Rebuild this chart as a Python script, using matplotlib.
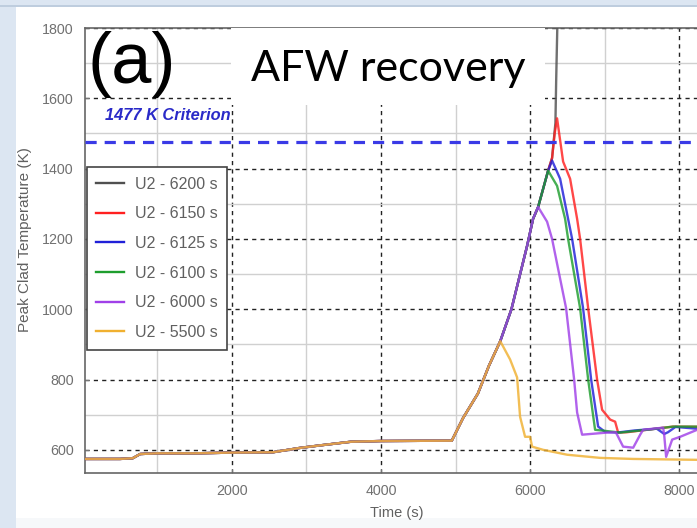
import matplotlib
matplotlib.use("Agg")
import matplotlib.pyplot as plt
from matplotlib.patches import Rectangle

# shared early part of every run (time s, temperature K)
base_t = [0, 500, 670, 770, 1000, 1500, 2000, 2550, 2900, 3200, 3600, 4000, 4950, 5100, 5300, 5450, 5600]
base_T = [574, 574, 576, 588, 590, 590, 592, 593, 605, 613, 623, 625, 626, 690, 760, 840, 909]

# rise common to the later recoveries
rise_t = [5750, 5960, 6040, 6107, 6242, 6295, 6340]
rise_T = [1000, 1180, 1257, 1290, 1394, 1430, 1530]

t_6200 = [6350, 6365, 6380]
T_6200 = [1650, 1800, 2100]

t_6150 = [6362, 6443, 6537, 6631, 6671, 6779, 6899, 6966, 7074, 7141, 7181, 7300, 7570, 7919, 8400]
T_6150 = [1543, 1420, 1371, 1257, 1200, 1003, 800, 714, 686, 680, 649, 650, 657, 666, 665]

t_6125 = [6403, 6510, 6564, 6711, 6819, 6913, 7007, 7168, 7400, 7700, 7800, 7850, 7950, 8242, 8400]
T_6125 = [1371, 1257, 1200, 1003, 800, 666, 651, 649, 655, 660, 645, 650, 665, 660, 660]

t_6100 = [6362, 6470, 6510, 6671, 6779, 6872, 7208, 7570, 7919, 8400]
T_6100 = [1351, 1257, 1200, 1003, 800, 657, 649, 657, 666, 666]

t_6000 = [6228, 6295, 6483, 6591, 6631, 6698, 7034, 7150, 7248, 7383, 7477, 7517, 7785, 7800, 7825, 7906, 8013, 8242, 8400]
T_6000 = [1249, 1200, 1003, 800, 706, 643, 649, 650, 609, 606, 643, 657, 663, 640, 580, 629, 637, 657, 660]

t_5500 = [5732, 5826, 5866, 5933, 6000, 6027, 6174, 6497, 6940, 7383, 8400]
T_5500 = [857, 806, 694, 637, 637, 609, 600, 586, 577, 574, 571]

criterion = 1477

def upto(t_end, T_end):
    # rise path truncated at the branch point
    ts = [t for t in rise_t if t < t_end]
    Ts = rise_T[:len(ts)]
    return base_t + ts + [t_end], base_T + Ts + [T_end]

runs = [
    ("U2 - 6200 s", "#505050", base_t + rise_t + t_6200, base_T + rise_T + T_6200),
    ("U2 - 6150 s", "#ff2020", *[a + b for a, b in zip(upto(6330, 1500), (t_6150, T_6150))]),
    ("U2 - 6125 s", "#2020d8", *[a + b for a, b in zip(upto(6295, 1423), (t_6125, T_6125))]),
    ("U2 - 6100 s", "#1e9e2e", *[a + b for a, b in zip(upto(6242, 1394), (t_6100, T_6100))]),
    ("U2 - 6000 s", "#a040e8", *[a + b for a, b in zip(upto(6107, 1291), (t_6000, T_6000))]),
    ("U2 - 5500 s", "#f0b030", base_t + t_5500, base_T + T_5500),
]

fig = plt.figure(figsize=(6.97, 5.28), dpi=100)
fig.patch.set_facecolor("#dce6f2")
fig.patches.append(Rectangle((16 / 697, 0), 1, (528 - 7) / 528, transform=fig.transFigure,
                             facecolor="white", edgecolor="none", zorder=-3))
fig.patches.append(Rectangle((16 / 697, 0), 1, 10 / 528, transform=fig.transFigure,
                             facecolor="#f6f8fa", edgecolor="none", zorder=-2))
fig.lines.append(plt.Line2D([0, 1], [1 - 5.5 / 528] * 2, transform=fig.transFigure,
                            color="#b8c8da", lw=1.2, zorder=-2))

ax = fig.add_axes([85 / 697, 1 - 473 / 528, (709 - 85) / 697, (473 - 28) / 528])
for label, color, t, T in runs:
    ax.plot(t, T, color=color, lw=1.7, alpha=0.82, label=label, zorder=3)

ax.axhline(criterion, color="#3a3ae6", lw=2.3, ls=(0, (3.5, 2.5)), zorder=4)
ax.text(300, 1537, "1477 K Criterion", color="#2a2ac8", fontsize=11.8, fontweight="bold",
        fontstyle="italic", family="Liberation Sans", zorder=5)

ax.set_xlim(30, 8400)
ax.set_ylim(534, 1800)
ax.set_xticks([2000, 4000, 6000, 8000])
ax.set_yticks([600, 800, 1000, 1200, 1400, 1600, 1800])
ax.set_xticks([1000, 3000, 5000, 7000], minor=True)
ax.set_yticks([700, 900, 1100, 1300, 1500, 1700], minor=True)
ax.grid(which="major", color="#222222", ls=(0, (3, 3)), lw=1.0)
ax.grid(which="minor", color="#d0d0d0", ls="-", lw=1.0)
ax.tick_params(which="both", direction="in", length=3, colors="#777777",
               labelcolor="#707070", labelsize=10.3, pad=8)
ax.tick_params(which="minor", length=0)
for lab in ax.get_xticklabels() + ax.get_yticklabels():
    lab.set_family("Liberation Sans")
for s in ax.spines.values():
    s.set_color("#666666")
    s.set_linewidth(1.2)
ax.spines["right"].set_visible(False)

ax.set_xlabel("Time (s)", family="Liberation Sans", fontsize=10.5, color="#606060", labelpad=6)
ax.set_ylabel("Peak Clad Temperature (K)", family="Liberation Sans", fontsize=11,
              color="#606060")
ax.yaxis.set_label_coords(-(85 - 32) / 624, (473 - 240) / 445)

leg = ax.legend(loc="upper left", bbox_to_anchor=(0.003, (473 - 167) / 445), borderaxespad=0,
                prop={"family": "Liberation Sans", "size": 11.5},
                labelspacing=0.92, handlelength=1.7, handletextpad=0.7, fancybox=False,
                framealpha=1, edgecolor="#444444", borderpad=0.6)
leg.get_frame().set_linewidth(1.2)
for txt in leg.get_texts():
    txt.set_color("#606060")
for ln in leg.get_lines():
    ln.set_alpha(1)

fig.text(87 / 697, 1 - 64 / 528, "(a)", fontsize=52, family="Liberation Sans",
         va="center", ha="left", color="black", zorder=6)
fig.patches.append(Rectangle((231 / 697, 1 - 105 / 528), (545 - 231) / 697, (105 - 28) / 528,
                             transform=fig.transFigure, facecolor="white", edgecolor="none", zorder=5))
fig.text(388 / 697, 1 - 69 / 528, "AFW recovery", fontsize=31, family="Lato",
         va="center", ha="center", color="black", zorder=6)

fig.savefig("out.png", dpi=100, facecolor=fig.get_facecolor())
